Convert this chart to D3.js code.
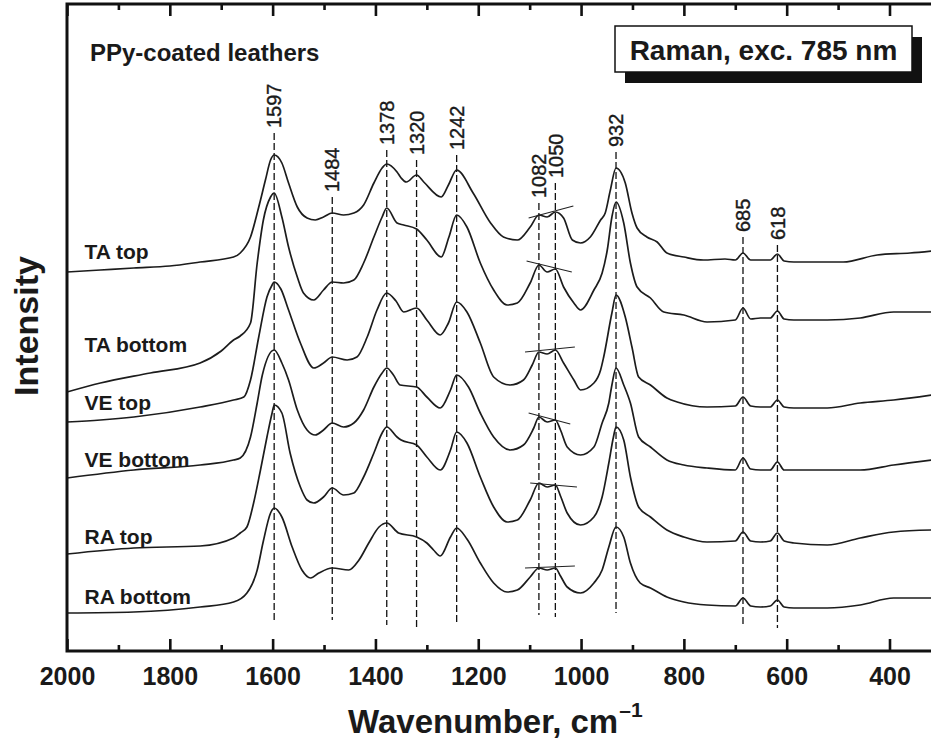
<!DOCTYPE html>
<html>
<head>
<meta charset="utf-8">
<script src="https://cdn.jsdelivr.net/npm/d3@7"></script>
<style>
  body { margin: 0; background: #fff; }
  text { font-family: "Liberation Sans", Arial, Helvetica, sans-serif; font-weight: bold; fill: #1a1a1a; }
</style>
</head>
<body>
<div id="chart"></div>
<script>
// spectra: [wavenumber cm-1, intensity (a.u., stacked)]
const taTop = [[2000,379],[1935,381],[1870,383],[1800,385],[1741,389],[1676,394],[1663,398],[1643,414],[1627,444],[1614,471],[1604,491],[1597,496],[1582,488],[1569,468],[1552,444],[1533,433],[1517,431],[1501,434],[1484,438],[1462,436],[1442,438],[1423,446],[1403,468],[1387,483],[1378,487],[1358,479],[1350,473],[1340,469],[1320,476],[1306,469],[1272,454],[1258,466],[1242,481],[1210,458],[1176,428],[1151,414],[1124,411],[1099,424],[1082,436],[1066,434],[1050,439],[1034,433],[1017,411],[1001,408],[982,414],[962,431],[953,438],[943,461],[932,483],[914,468],[901,438],[891,423],[872,414],[852,409],[833,398],[800,394],[762,391],[720,392],[700,391],[685,398],[670,391],[651,391],[632,391],[618,397],[605,390],[586,389],[490,389],[424,396],[360,398],[318,400]];
const taBottom = [[2000,259],[1935,268],[1838,278],[1741,288],[1700,300],[1676,311],[1663,315],[1643,328],[1630,388],[1618,431],[1604,454],[1597,458],[1582,434],[1569,404],[1552,374],[1540,358],[1520,351],[1501,361],[1484,369],[1462,368],[1442,371],[1423,388],[1403,414],[1387,434],[1378,443],[1358,428],[1345,426],[1320,422],[1300,411],[1272,394],[1257,414],[1242,436],[1222,424],[1196,388],[1170,361],[1144,346],[1124,348],[1099,368],[1082,386],[1066,379],[1050,382],[1034,364],[1014,348],[1001,341],[975,361],[959,378],[949,401],[940,434],[932,449],[917,428],[904,388],[891,364],[865,353],[839,339],[800,336],[755,329],[700,331],[685,343],[670,332],[651,333],[632,333],[618,340],[605,332],[586,331],[521,331],[457,333],[392,339],[318,339]];
const veTop = [[2000,229],[1935,231],[1870,234],[1741,244],[1676,251],[1656,254],[1643,271],[1627,314],[1611,354],[1601,366],[1597,369],[1584,362],[1569,341],[1546,308],[1520,283],[1501,288],[1484,294],[1455,291],[1436,294],[1416,314],[1397,341],[1378,358],[1360,350],[1345,339],[1320,343],[1300,331],[1274,316],[1258,328],[1242,349],[1222,339],[1196,308],[1170,274],[1138,266],[1112,271],[1095,286],[1082,299],[1066,297],[1050,301],[1034,288],[1014,271],[1001,261],[975,268],[962,281],[956,294],[940,338],[932,356],[914,334],[901,304],[888,274],[865,266],[833,253],[813,249],[755,244],[700,245],[685,254],[670,245],[651,244],[632,244],[618,251],[605,244],[586,243],[521,243],[457,248],[392,251],[318,256]];
const veBottom = [[2000,173],[1870,181],[1741,186],[1676,191],[1663,193],[1643,214],[1630,248],[1620,276],[1597,301],[1582,288],[1569,271],[1552,241],[1533,221],[1517,216],[1501,221],[1484,228],[1462,224],[1442,228],[1423,241],[1403,264],[1387,278],[1378,283],[1365,276],[1352,266],[1320,264],[1300,254],[1274,243],[1254,261],[1242,276],[1219,264],[1196,238],[1170,214],[1138,201],[1112,206],[1092,223],[1082,234],[1066,229],[1050,231],[1040,221],[1027,204],[1001,196],[975,204],[959,228],[946,248],[940,266],[932,283],[917,266],[904,248],[888,214],[865,204],[833,191],[800,186],[755,183],[700,181],[685,193],[670,182],[651,181],[632,181],[618,189],[605,181],[586,181],[457,181],[392,186],[318,191]];
const raTop = [[2000,97],[1870,103],[1741,105],[1676,113],[1663,118],[1650,124],[1637,148],[1624,180],[1611,214],[1601,238],[1597,246],[1582,238],[1566,198],[1546,164],[1533,151],[1520,148],[1501,154],[1484,163],[1462,156],[1442,158],[1423,174],[1403,198],[1387,218],[1378,224],[1358,214],[1350,211],[1320,206],[1300,194],[1274,181],[1254,201],[1242,219],[1222,208],[1196,174],[1170,144],[1144,129],[1124,131],[1099,151],[1082,168],[1066,164],[1050,166],[1040,155],[1027,138],[1001,126],[975,134],[959,154],[946,188],[937,214],[932,224],[917,211],[904,174],[888,144],[865,134],[833,121],[800,114],[755,109],[700,110],[685,119],[670,110],[651,109],[632,110],[618,118],[605,110],[586,108],[521,106],[457,113],[392,119],[318,121]];
const raBottom = [[2000,38],[1870,39],[1741,44],[1676,49],[1650,58],[1630,81],[1618,110],[1604,138],[1597,143],[1582,134],[1562,104],[1543,81],[1526,73],[1510,78],[1484,83],[1452,81],[1432,91],[1413,108],[1393,124],[1378,128],[1355,118],[1320,114],[1300,108],[1287,101],[1274,95],[1254,114],[1242,123],[1222,112],[1196,88],[1170,68],[1144,59],[1124,61],[1099,74],[1082,83],[1066,81],[1050,83],[1040,75],[1027,64],[1001,58],[975,68],[959,81],[946,104],[932,124],[917,114],[904,88],[885,68],[865,63],[833,54],[800,49],[755,46],[700,45],[685,53],[670,45],[651,44],[632,45],[618,51],[605,44],[586,43],[521,43],[457,46],[392,53],[318,53]];

const seriesNames = ["TA top", "TA bottom", "VE top", "VE bottom", "RA top", "RA bottom"];
const seriesData = [taTop, taBottom, veTop, veBottom, raTop, raBottom];

// marked bands and the extent of their guide lines (intensity units)
const peakWavenumbers = [1597, 1484, 1378, 1320, 1242, 1082, 1050, 932, 685, 618];
const peakLineTop = [518, 454, 501, 491, 496, 448, 468, 499, 414, 406];
const peakLineBottom = [28, 31, 26, 23, 29, 36, 34, 38, 26, 23];

// short tangents across the 1082/1050 doublet: [w1, i1, w2, i2]
const tangents = [[1102,433,1015,445],[1106,390,1018,379],[1109,299,1012,304],[1102,238,1021,227],[1099,168,1008,164],[1109,83,1012,85]];

const xMajorTicks = [2000, 1800, 1600, 1400, 1200, 1000, 800, 600, 400];
const xMinorTicks = [1900, 1700, 1500, 1300, 1100, 900, 700, 500];

const W = 931, H = 744;
const plotLeft = 67, plotTop = 4, plotBottom = 651;

const svg = d3.select("#chart").append("svg")
    .attr("width", W)
    .attr("height", H)
    .style("display", "block");

const x = d3.scaleLinear().domain([2000, 400]).range([plotLeft, 889.5]);
const y = d3.scaleLinear().domain([0, 647]).range([plotBottom, plotTop]);

// guide lines for the bands
svg.append("g").selectAll("line")
    .data(peakWavenumbers)
    .join("line")
    .attr("x1", d => x(d)).attr("x2", d => x(d))
    .attr("y1", (d, i) => y(peakLineTop[i]))
    .attr("y2", (d, i) => y(peakLineBottom[i]))
    .attr("stroke", "#111")
    .attr("stroke-width", 1.3)
    .attr("stroke-dasharray", "7,3");

svg.append("g").selectAll("text")
    .data(peakWavenumbers)
    .join("text")
    .attr("transform", (d, i) => `translate(${x(d)},${y(peakLineTop[i]) - 5}) rotate(-90)`)
    .attr("dy", "0.36em")
    .style("font-size", "20px")
    .style("font-weight", "normal")
    .style("stroke", "#1a1a1a")
    .style("stroke-width", 0.4)
    .text(d => d);

// spectra
const line = d3.line()
    .x(d => x(d[0]))
    .y(d => y(d[1]))
    .curve(d3.curveMonotoneX);

svg.append("g").selectAll("path")
    .data(seriesData)
    .join("path")
    .attr("d", line)
    .attr("fill", "none")
    .attr("stroke", "#1c1c1c")
    .attr("stroke-width", 1.7)
    .attr("stroke-linejoin", "round");

svg.append("g").selectAll("line")
    .data(tangents)
    .join("line")
    .attr("x1", d => x(d[0])).attr("y1", d => y(d[1]))
    .attr("x2", d => x(d[2])).attr("y2", d => y(d[3]))
    .attr("stroke", "#222")
    .attr("stroke-width", 1.1);

// series labels
const labelBaseline = [392, 299, 241, 184, 107, 47];
svg.append("g").selectAll("text")
    .data(seriesNames)
    .join("text")
    .attr("x", x(1966))
    .attr("y", (d, i) => y(labelBaseline[i]))
    .style("font-size", "21px")
    .text(d => d);

// axes: ticks point inward on top and bottom
const bottomMajor = svg.append("g")
    .attr("transform", `translate(0,${plotBottom})`)
    .call(d3.axisBottom(x).tickValues(xMajorTicks).tickSize(-12).tickPadding(16).tickFormat(d3.format("d")));
const bottomMinor = svg.append("g")
    .attr("transform", `translate(0,${plotBottom})`)
    .call(d3.axisBottom(x).tickValues(xMinorTicks).tickSize(-6).tickFormat(""));
const topMajor = svg.append("g")
    .attr("transform", `translate(0,${plotTop})`)
    .call(d3.axisTop(x).tickValues(xMajorTicks).tickSize(-12).tickFormat(""));
const topMinor = svg.append("g")
    .attr("transform", `translate(0,${plotTop})`)
    .call(d3.axisTop(x).tickValues(xMinorTicks).tickSize(-6).tickFormat(""));

[bottomMajor, bottomMinor, topMajor, topMinor].forEach(g => {
    g.select(".domain").remove();
    g.selectAll(".tick line").attr("stroke", "#111").attr("stroke-width", 2.6);
});
bottomMajor.selectAll(".tick text")
    .style("font-family", "'Liberation Sans', Arial, sans-serif")
    .style("font-weight", "bold")
    .style("font-size", "25px")
    .attr("fill", "#1a1a1a");

// frame (open on the right, the figure is cut there)
svg.append("path")
    .attr("d", `M${W + 5},${plotTop}H${plotLeft}V${plotBottom}H${W + 5}`)
    .attr("fill", "none")
    .attr("stroke", "#111")
    .attr("stroke-width", 3);

// axis titles
const xTitle = svg.append("text")
    .attr("x", 348)
    .attr("y", 733)
    .style("font-size", "33px");
xTitle.append("tspan").text("Wavenumber, cm");
xTitle.append("tspan").attr("dy", -16).attr("dx", 1).style("font-size", "21px").text("\u20131");

svg.append("text")
    .attr("transform", "translate(38,326) rotate(-90)")
    .attr("text-anchor", "middle")
    .style("font-size", "34px")
    .text("Intensity");

svg.append("text")
    .attr("x", 90)
    .attr("y", 61)
    .style("font-size", "24px")
    .text("PPy-coated leathers");

// boxed note with drop shadow
const box = { x: 615, y: 26, w: 297, h: 46 };
svg.append("rect")
    .attr("x", box.x + 10).attr("y", box.y + 11)
    .attr("width", box.w).attr("height", box.h)
    .attr("fill", "#111");
svg.append("rect")
    .attr("x", box.x).attr("y", box.y)
    .attr("width", box.w).attr("height", box.h)
    .attr("fill", "#fff")
    .attr("stroke", "#111")
    .attr("stroke-width", 1.5);
svg.append("text")
    .attr("x", box.x + box.w / 2)
    .attr("y", 60)
    .attr("text-anchor", "middle")
    .style("font-size", "28px")
    .text("Raman, exc. 785 nm");
</script>
</body>
</html>
